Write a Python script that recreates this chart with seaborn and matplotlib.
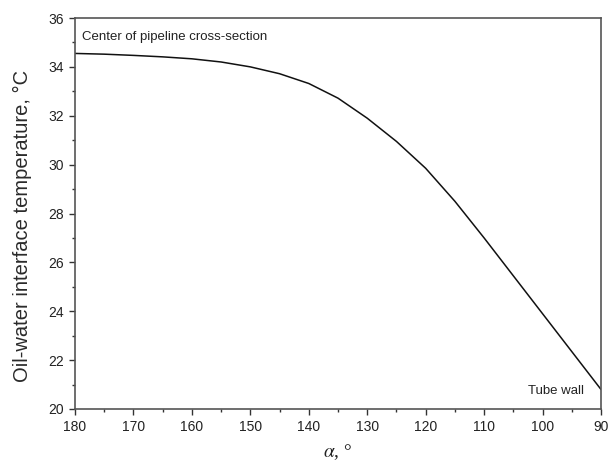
import numpy as np
import pandas as pd
import seaborn as sns
import matplotlib
matplotlib.use("Agg")
import matplotlib.pyplot as plt
from matplotlib.ticker import MultipleLocator

alpha_deg = [180, 175, 170, 165, 160, 155, 150, 145, 140, 135, 130, 125, 120, 115, 110, 105, 100, 95, 90]
temperature = [34.55, 34.52, 34.47, 34.41, 34.33, 34.2, 34.0, 33.72, 33.32, 32.72, 31.9, 30.95, 29.85, 28.5, 27.0, 25.45, 23.9, 22.35, 20.8]

df = pd.DataFrame({"alpha": alpha_deg, "T": temperature})

sns.set_theme(style="ticks")
plt.rcParams['font.family'] = ['Liberation Sans', 'DejaVu Sans']
plt.rcParams['mathtext.fontset'] = 'stix'

fig = plt.figure(figsize=(6.09, 4.70), dpi=100)
ax = fig.add_axes([75/609, 1 - 409/470, (601-75)/609, (409-18)/470])

sns.lineplot(data=df, x="alpha", y="T", ax=ax, color="#111111", linewidth=1.1)

ax.set_xlim(180, 90)
ax.set_ylim(20, 36)
ax.xaxis.set_major_locator(MultipleLocator(10))
ax.xaxis.set_minor_locator(MultipleLocator(5))
ax.yaxis.set_major_locator(MultipleLocator(2))
ax.yaxis.set_minor_locator(MultipleLocator(1))
ax.tick_params(axis="both", which="major", direction="out", length=4, width=1, labelsize=10, colors="#333333", pad=4)
ax.tick_params(axis="both", which="minor", direction="out", length=2, width=1, colors="#333333")
for lbl in ax.get_xticklabels() + ax.get_yticklabels():
    lbl.set_color("#222222")
for s in ax.spines.values():
    s.set_color("#555555")
    s.set_linewidth(1.2)
    s.set_visible(True)

ax.set_ylabel("Oil-water interface temperature, °C", fontsize=14.5, color="#2a2a2a")
ax.set_xlabel(r"$\alpha$, °", fontsize=14, color="#222222", family="Liberation Serif")
ax.yaxis.set_label_coords((22 - 75) / 526, (409 - 226) / 391)
ax.yaxis.label.set_va("center")
ax.xaxis.set_label_coords(0.5, (409 - 452) / 391)
ax.xaxis.label.set_va("center")

ax.text(178.8, 35.22, "Center of pipeline cross-section", fontsize=9.5, color="#222222", va="center", ha="left")
ax.text(92.9, 20.74, "Tube wall", fontsize=9.5, color="#222222", va="center", ha="right")

fig.savefig("out.png", dpi=100)
